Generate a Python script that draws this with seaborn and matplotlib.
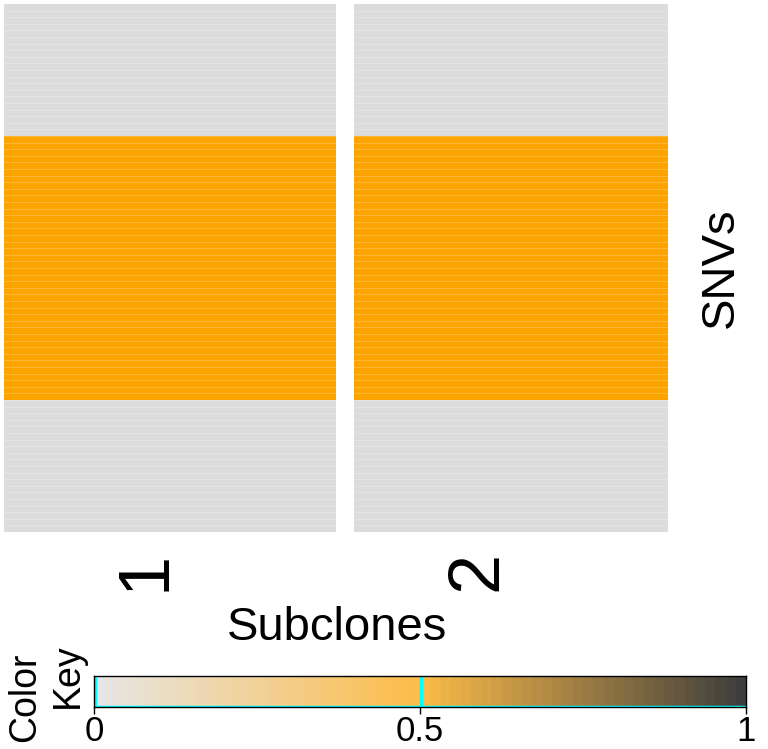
import numpy as np
import pandas as pd
import matplotlib
matplotlib.use("Agg")
import matplotlib.pyplot as plt
import seaborn as sns
from matplotlib.colors import LinearSegmentedColormap

# data: SNV membership per subclone (0 = absent, 0.5 = present)
subclones = ["1", "2"]
n_top, n_mid, n_bot = 20, 40, 20
col1_vals = [0.0] * n_top + [0.5] * n_mid + [0.0] * n_bot
col2_vals = [0.0] * n_top + [0.5] * n_mid + [0.0] * n_bot
key_ticks = [0, 0.5, 1]
key_ticklabels = ["0", "0.5", "1"]

df = pd.DataFrame({"1": col1_vals, "2": col2_vals})

sns.set_style("white")
plt.rcParams["font.family"] = ["Liberation Sans", "DejaVu Sans"]
plt.rcParams["text.color"] = "black"
plt.rcParams["xtick.color"] = "black"

cell_cmap = LinearSegmentedColormap.from_list("cells", ["#dcdcdc", "#ffa500", "#1a1a1a"])
key_cmap = LinearSegmentedColormap.from_list("key", ["#e6e6e6", "#fdbd48", "#3e3e3e"], N=64)

W, H = 768, 749
fig = plt.figure(figsize=(W / 100, H / 100), dpi=100)

# main heatmap
ax = fig.add_axes([4 / W, 1 - 532 / H, 664 / W, 528 / H])
sns.heatmap(df, ax=ax, cmap=cell_cmap, vmin=0, vmax=1, cbar=False,
            xticklabels=False, yticklabels=False)
ax.hlines(np.arange(1, len(df)), 0, 2, colors="white", alpha=0.25, lw=0.6)
# column separator
ax.axvspan(1, 1 + 18 / 332, color="white", lw=0)
ax.set_xlabel("")
ax.set_ylabel("")

for i, lab in enumerate(subclones):
    ax.text(i + 0.428, -19 / 528, lab, transform=ax.get_xaxis_transform(),
            rotation=90, ha="center", va="top", fontsize=52, color="black")

fig.text(337 / W, 1 - 640 / H, "Subclones", ha="center", va="baseline", fontsize=34)
fig.text(721 / W, 1 - 268 / H, "SNVs", rotation=90, ha="center", va="center", fontsize=34)

# color key with histogram trace
kax = fig.add_axes([94 / W, 1 - 707 / H, 652 / W, 31 / H])
grad = np.linspace(0, 1, 256).reshape(1, -1)
kax.imshow(grad, aspect="auto", cmap=key_cmap, extent=[0, 1, 0, 1])
vals, counts = np.unique(df.values.ravel(), return_counts=True)
kax.axhline(0.01, color="cyan", lw=2.5)
kax.vlines(vals + 0.002, 0, counts / counts.max(), color="cyan", lw=2.5)
kax.set_xlim(0, 1)
kax.set_ylim(0, 1)
kax.set_yticks([])
kax.set_xticks(key_ticks)
kax.set_xticklabels(key_ticklabels, fontsize=25)
kax.tick_params(axis="x", length=5, width=1, pad=1, bottom=True, colors="black")
for s in kax.spines.values():
    s.set_color("black")
    s.set_linewidth(1)

fig.text(25 / W, 1 - 697 / H, "Color", rotation=90, ha="center", va="center", fontsize=27)
fig.text(68 / W, 1 - 676 / H, "Key", rotation=90, ha="center", va="center", fontsize=27)

fig.savefig("out.png", dpi=100)
